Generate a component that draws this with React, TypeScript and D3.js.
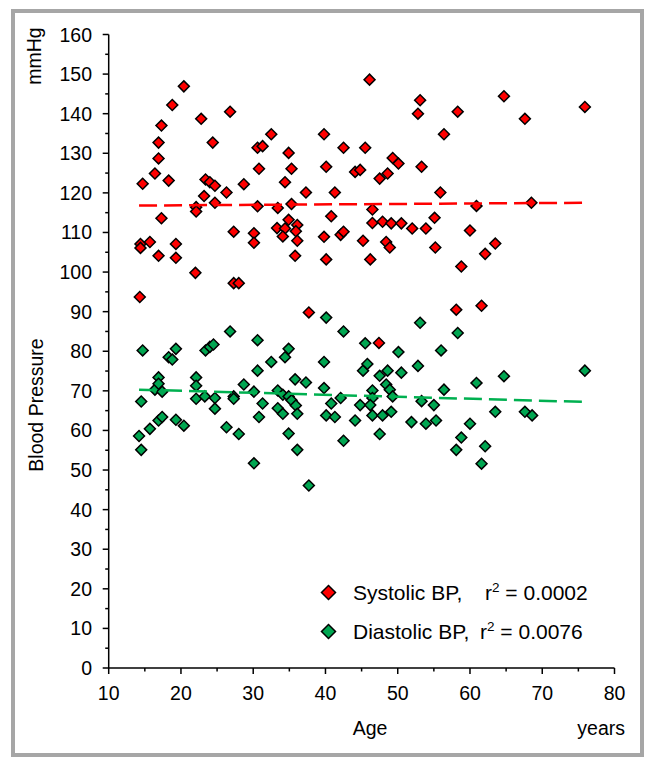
import * as d3 from "d3";

// ages and readings
const sysAge = [
  20.4, 18.8, 17.3, 16.9, 16.9, 16.4, 14.7, 18.3, 22.8, 26.8, 24.4, 17.3, 14.4, 14.4, 15.7, 16.9, 19.3, 19.3,
  22.0, 14.3, 22.1, 22.1, 23.4, 24.0, 24.7, 23.2, 24.7, 26.3, 28.7, 27.3, 27.3, 28.0, 30.1, 30.1, 30.6, 31.3,
  32.5, 30.8, 30.6, 33.4, 34.9, 35.3, 34.4, 37.3, 35.3, 33.3, 34.4, 34.9, 36.1, 35.9, 34.1, 36.1, 35.8, 39.8,
  40.1, 41.3, 40.8, 39.8, 40.1, 42.5, 42.1, 42.5, 44.1, 44.8, 45.5, 46.1, 45.2, 53.1, 52.8, 58.3, 64.7, 67.6,
  75.9, 56.4, 49.3, 50.1, 53.3, 47.5, 48.6, 55.9, 46.5, 60.9, 68.5, 46.5, 47.9, 49.1, 50.5, 52.0, 53.9, 55.1,
  60.0, 48.4, 48.9, 46.2, 55.2, 58.8, 62.1, 63.5, 61.6, 58.1, 37.7, 47.4
];
const sysBP = [
  146.9, 142.2, 137.0, 132.7, 128.7, 124.9, 122.3, 123.1, 138.7, 140.5, 132.7, 113.6, 107.1, 106.1, 107.6, 104.1, 107.1, 103.6,
  99.8, 93.7, 116.4, 115.3, 123.4, 122.7, 121.8, 119.2, 117.5, 120.1, 122.2, 110.2, 97.2, 97.2, 109.8, 107.4, 131.4, 131.8,
  134.8, 126.1, 116.6, 116.2, 130.1, 126.1, 122.7, 120.1, 117.2, 111.1, 111.0, 113.2, 111.9, 110.3, 109.0, 107.9, 104.1, 134.8,
  126.6, 120.1, 114.1, 108.9, 103.2, 131.4, 109.4, 110.2, 125.3, 125.8, 131.4, 148.6, 107.9, 143.4, 140.0, 140.5, 144.4, 138.7,
  141.7, 134.8, 128.8, 127.4, 126.6, 123.6, 124.9, 120.1, 115.8, 116.7, 117.5, 112.4, 112.7, 112.3, 112.3, 111.0, 111.0, 113.7,
  110.5, 107.6, 106.2, 103.2, 106.2, 101.4, 104.6, 107.2, 91.5, 90.5, 89.8, 82.1
];
const diaAge = [
  40.1, 42.5, 26.8, 14.7, 19.3, 18.3, 18.8, 23.4, 24.0, 24.5, 30.6, 34.9, 34.4, 32.5, 30.6, 39.8, 45.5, 16.9,
  16.4, 17.4, 16.9, 14.5, 22.1, 22.1, 22.1, 23.3, 24.7, 24.7, 27.3, 27.3, 28.7, 30.1, 31.3, 30.8, 35.8, 37.3,
  33.4, 34.1, 34.9, 35.3, 35.9, 33.4, 34.1, 36.1, 39.8, 40.8, 40.1, 41.3, 42.1, 42.5, 44.1, 44.8, 45.2, 45.8,
  14.2, 14.5, 15.7, 16.9, 17.4, 19.3, 20.4, 26.3, 28.0, 30.1, 34.9, 36.1, 37.7, 53.1, 58.3, 50.1, 56.0, 47.5,
  48.6, 50.5, 52.8, 60.9, 64.7, 75.9, 46.5, 46.5, 48.4, 48.9, 49.3, 46.2, 46.5, 47.9, 49.1, 47.5, 53.3, 55.0,
  56.4, 51.9, 53.9, 55.3, 60.0, 63.5, 67.6, 68.6, 58.8, 58.1, 62.1, 61.6
];
const diaBP = [
  88.5, 85.0, 85.0, 80.2, 80.6, 78.5, 77.9, 80.2, 81.1, 81.7, 82.8, 80.6, 78.5, 77.3, 75.1, 77.3, 82.0, 73.4,
  70.3, 69.8, 71.8, 67.3, 73.4, 71.3, 68.0, 68.6, 68.2, 65.5, 68.6, 68.0, 71.6, 69.8, 66.8, 63.4, 72.9, 72.1,
  70.1, 69.0, 68.6, 67.6, 66.3, 65.6, 64.2, 64.2, 70.7, 66.8, 63.8, 63.4, 68.2, 57.4, 62.5, 66.4, 75.1, 76.8,
  58.6, 55.1, 60.4, 62.5, 63.4, 62.7, 61.2, 60.8, 59.1, 51.7, 59.2, 55.1, 46.1, 87.2, 84.6, 79.8, 80.2, 73.8,
  75.1, 74.6, 76.3, 72.0, 73.7, 75.1, 70.1, 68.2, 71.6, 70.3, 68.6, 66.4, 63.8, 63.8, 64.7, 59.1, 67.4, 66.4,
  70.3, 62.1, 61.7, 62.5, 61.7, 64.7, 64.7, 63.8, 58.2, 55.1, 56.0, 51.6
];

// regression line ends as drawn in the source
const trendAge = [14.2, 76];
const sysTrend = [116.8, 117.5];
const diaTrend = [70.3, 67.2];

const xTicks = [10, 20, 30, 40, 50, 60, 70, 80];
const yTicks = [0, 10, 20, 30, 40, 50, 60, 70, 80, 90, 100, 110, 120, 130, 140, 150, 160];
const legendNames = ["Systolic BP,", "Diastolic BP,"];
const legendR2 = ["0.0002", "0.0076"];

const RED = "#ff0000";
const GREEN = "#00a651";
const FONT = "'Liberation Sans', Arial, sans-serif";

export default function App() {
  const x = d3.scaleLinear([10, 80], [108.7, 614.5]);
  const y = d3.scaleLinear([0, 160], [668, 34.5]);
  const minorX = d3.range(15, 80, 10);
  const minorY = d3.range(5, 160, 10);
  const diamond = d3.symbol(d3.symbolSquare, 60)();
  const bigDiamond = d3.symbol(d3.symbolSquare, 98)();
  const line = d3.line<number>((d, i) => x(trendAge[i]), (d) => y(d));

  const dots = (ages: number[], vals: number[], fill: string) =>
    ages.map((a, i) => (
      <path key={i} d={diamond} transform={`translate(${x(a)},${y(vals[i])}) rotate(45)`}
        fill={fill} stroke="#000" strokeWidth={1.5} />
    ));

  return (
    <svg width={646} height={758} style={{ position: "absolute", left: 0, top: 0 }} fontFamily={FONT}>
      <rect x={0} y={0} width={646} height={758} fill="#fff" />
      <rect x={13} y={11} width={629} height={744} fill="none" stroke="#a6a6a6" strokeWidth={4} />

      {/* axes */}
      <g stroke="#000" strokeWidth={1.5}>
        <line x1={x(10)} x2={x(10)} y1={y(0)} y2={y(160)} />
        <line x1={x(10)} x2={x(80)} y1={y(0)} y2={y(0)} />
        {yTicks.map((t) => <line key={t} x1={x(10) - 6} x2={x(10)} y1={y(t)} y2={y(t)} />)}
        {minorY.map((t) => <line key={t} x1={x(10) - 3.5} x2={x(10)} y1={y(t)} y2={y(t)} />)}
        {xTicks.map((t) => <line key={t} x1={x(t)} x2={x(t)} y1={y(0)} y2={y(0) + 6} />)}
        {minorX.map((t) => <line key={t} x1={x(t)} x2={x(t)} y1={y(0)} y2={y(0) + 3.5} />)}
      </g>
      <g fontSize={19.5} fill="#000">
        {yTicks.map((t) => (
          <text key={t} x={92} y={y(t)} dy="0.36em" textAnchor="end">{t}</text>
        ))}
        {xTicks.map((t) => (
          <text key={t} x={x(t)} y={700} textAnchor="middle">{t}</text>
        ))}
        <text transform="translate(41,56) rotate(-90)" textAnchor="middle">mmHg</text>
        <text transform="translate(43,405) rotate(-90)" textAnchor="middle">Blood Pressure</text>
        <text x={370} y={735} textAnchor="middle">Age</text>
        <text x={625} y={735} textAnchor="end">years</text>
      </g>

      {/* points */}
      <g>{dots(sysAge, sysBP, RED)}</g>
      <g>{dots(diaAge, diaBP, GREEN)}</g>

      {/* trend lines */}
      <path d={line(sysTrend) ?? ""} fill="none" stroke={RED} strokeWidth={2.5} strokeDasharray="18,7" />
      <path d={line(diaTrend) ?? ""} fill="none" stroke="#00b050" strokeWidth={2.5} strokeDasharray="18,7" />

      {/* legend */}
      <g fontSize={21} fill="#000">
        {legendNames.map((n, i) => {
          const cy = 592.5 + i * 39;
          return (
            <g key={n}>
              <path d={bigDiamond} transform={`translate(328.5,${cy}) rotate(45)`}
                fill={i === 0 ? RED : GREEN} stroke="#000" strokeWidth={1.5} />
              <text x={353} y={cy + 7}>{n}</text>
              <text x={i === 0 ? 485 : 480} y={cy + 7}>
                r<tspan dy={-8} fontSize={13.5}>2</tspan>
                <tspan dy={8}> = {legendR2[i]}</tspan>
              </text>
            </g>
          );
        })}
      </g>
    </svg>
  );
}
